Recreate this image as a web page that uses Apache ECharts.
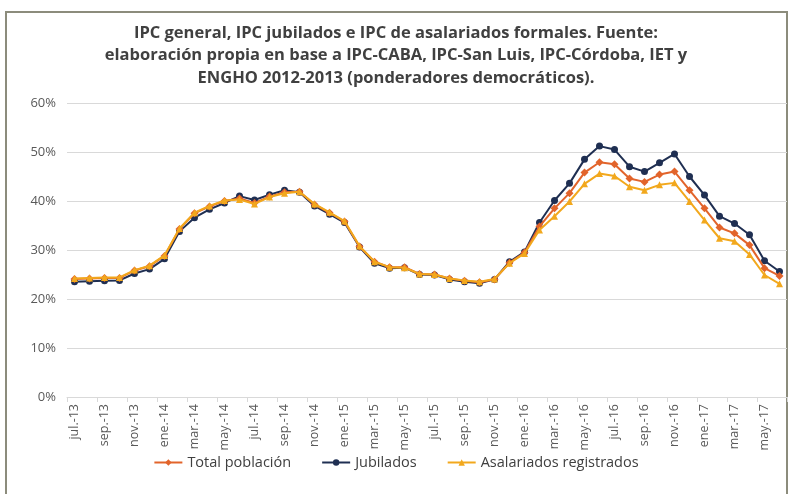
<!DOCTYPE html>
<html><head><meta charset="utf-8">
<script src="https://cdn.jsdelivr.net/npm/echarts@6/dist/echarts.min.js"></script>
<style>html,body{margin:0;padding:0;background:#fff}#c{width:792px;height:494px}</style>
</head><body><div id="c"></div>
<script>
const months = ['jul.-13','ago.-13','sep.-13','oct.-13','nov.-13','dic.-13','ene.-14','feb.-14','mar.-14','abr.-14','may.-14','jun.-14','jul.-14','ago.-14','sep.-14','oct.-14','nov.-14','dic.-14','ene.-15','feb.-15','mar.-15','abr.-15','may.-15','jun.-15','jul.-15','ago.-15','sep.-15','oct.-15','nov.-15','dic.-15','ene.-16','feb.-16','mar.-16','abr.-16','may.-16','jun.-16','jul.-16','ago.-16','sep.-16','oct.-16','nov.-16','dic.-16','ene.-17','feb.-17','mar.-17','abr.-17','may.-17','jun.-17'];
const totalPoblacion = [24.1,24.2,24.3,24.3,25.8,26.7,28.8,34.3,37.5,38.9,40.0,40.5,39.6,40.9,41.8,41.9,39.3,37.6,35.8,30.7,27.6,26.5,26.5,25.1,25.0,24.2,23.7,23.4,24.0,27.4,29.5,34.8,38.5,41.6,45.8,47.9,47.5,44.6,43.9,45.4,46.0,42.2,38.5,34.6,33.4,31.0,26.3,24.7];
const jubilados = [23.5,23.6,23.7,23.8,25.2,26.1,28.2,33.8,36.6,38.3,39.6,41.0,40.2,41.3,42.2,41.8,39.0,37.3,35.6,30.6,27.3,26.3,26.4,25.0,24.9,24.0,23.5,23.2,24.0,27.6,29.6,35.6,40.1,43.6,48.5,51.2,50.5,47.0,46.0,47.8,49.6,45.0,41.2,36.9,35.4,33.1,27.8,25.6];
const asalariados = [24.2,24.3,24.4,24.4,25.9,26.8,28.9,34.4,37.6,39.0,40.1,40.3,39.4,40.8,41.6,41.9,39.4,37.7,35.9,30.8,27.6,26.5,26.4,25.1,25.0,24.2,23.8,23.5,24.1,27.3,29.3,34.1,36.9,39.9,43.5,45.6,45.1,42.9,42.2,43.3,43.7,39.9,36.1,32.4,31.8,29.1,24.9,23.1];
const seriesNames = ['Total población','Jubilados','Asalariados registrados'];
const titleText = 'IPC general, IPC jubilados e IPC de asalariados formales. Fuente:\nelaboración propia en base a IPC-CABA, IPC-San Luis, IPC-Córdoba, IET y\nENGHO 2012-2013 (ponderadores democráticos).';

const FONT = 'Open Sans';
const chart = echarts.init(document.getElementById('c'), null, {renderer:'canvas'});
function mk(name, data, color, symbol, size, z) {
  return {name, type:'line', data, z, symbol, symbolSize:size, showSymbol:true,
    lineStyle:{color, width:2}, itemStyle:{color, borderWidth:0}, animation:false};
}
chart.setOption({
  backgroundColor:'#fff',
  textStyle:{fontFamily:FONT},
  graphic:[{type:'rect', shape:{x:6, y:12, width:781, height:500}, style:{fill:'none', stroke:'#8c8c7c', lineWidth:2}, silent:true}],
  title:{text:titleText, left:'center', top:17, textStyle:{fontFamily:FONT, fontWeight:'bold', fontSize:16.5, color:'#404040', lineHeight:22.5}},
  legend:{data:seriesNames, bottom:19, left:'center', itemWidth:28, itemHeight:8, itemGap:30,
    textStyle:{fontFamily:FONT, fontSize:14.5, color:'#404040'}},
  grid:{left:67, right:5, top:103, bottom:97, containLabel:false},
  xAxis:{type:'category', data:months, boundaryGap:true,
    axisLine:{lineStyle:{color:'#d9d9d9'}},
    axisTick:{show:true, interval:1, length:5, lineStyle:{color:'#d9d9d9'}},
    axisLabel:{interval:1, rotate:90, color:'#595959', fontFamily:FONT, fontSize:12.5, margin:7}},
  yAxis:{type:'value', min:0, max:60, interval:10,
    axisLine:{show:false}, axisTick:{show:false},
    splitLine:{lineStyle:{color:'#d9d9d9', width:1}},
    axisLabel:{formatter:'{value}%', color:'#595959', fontFamily:FONT, fontSize:13, margin:11}},
  series:[
    mk(seriesNames[0], totalPoblacion, '#E2642B', 'diamond', 8, 3),
    mk(seriesNames[1], jubilados, '#1F2F52', 'circle', 7, 2),
    mk(seriesNames[2], asalariados, '#F2A81D', 'triangle', 7, 4)
  ]
});
</script></body></html>
